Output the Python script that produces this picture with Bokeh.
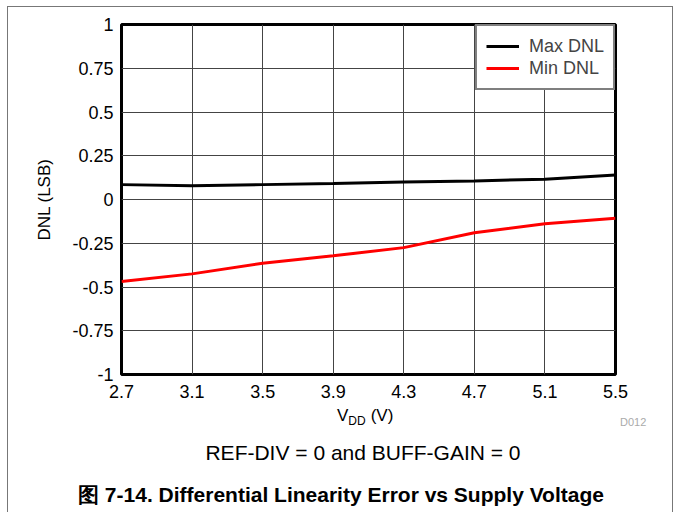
from bokeh.plotting import figure
from bokeh.layouts import column
from bokeh.models import FixedTicker, Range1d, Legend, LegendItem, Div
from bokeh.embed import file_html
from bokeh.resources import INLINE

# ---- data ----
vdd = [2.7, 3.1, 3.5, 3.9, 4.3, 4.7, 5.1, 5.5]
max_dnl = [0.085, 0.078, 0.085, 0.092, 0.100, 0.106, 0.116, 0.140]
min_dnl = [-0.469, -0.425, -0.364, -0.322, -0.275, -0.190, -0.139, -0.107]

x_ticks = [2.7, 3.1, 3.5, 3.9, 4.3, 4.7, 5.1, 5.5]
x_tick_labels = ["2.7", "3.1", "3.5", "3.9", "4.3", "4.7", "5.1", "5.5"]
y_ticks = [-1, -0.75, -0.5, -0.25, 0, 0.25, 0.5, 0.75, 1]
y_tick_labels = ["-1", "-0.75", "-0.5", "-0.25", "0", "0.25", "0.5", "0.75", "1"]

series_names = ["Max DNL", "Min DNL"]
x_title = "V"
x_title_sub = "DD"
x_title_unit = "(V)"
y_title = "DNL (LSB)"
note = "REF-DIV = 0 and BUFF-GAIN = 0"
caption = "图 7-14. Differential Linearity Error vs Supply Voltage"
code = "D012"

FONT = "Liberation Sans"

W = 664
H1 = 398
ML, MT = 113, 17
FRAME_W, FRAME_H = 494, 350
MR = W - ML - FRAME_W
MB = H1 - MT - FRAME_H

p = figure(width=W, height=H1, x_range=Range1d(2.7, 5.5), y_range=Range1d(-1, 1),
           output_backend="svg", toolbar_location=None,
           min_border_left=ML, min_border_right=MR,
           min_border_top=MT, min_border_bottom=MB)

p.outline_line_color = "black"
p.outline_line_width = 3

p.xaxis.ticker = FixedTicker(ticks=x_ticks)
p.yaxis.ticker = FixedTicker(ticks=y_ticks)
p.xaxis.major_label_overrides = {t: l for t, l in zip(x_ticks, x_tick_labels)}
p.yaxis.major_label_overrides = {t: l for t, l in zip(y_ticks, y_tick_labels)}

for ax in (p.xaxis[0], p.yaxis[0]):
    ax.axis_line_color = None
    ax.major_tick_line_color = None
    ax.minor_tick_line_color = None
    ax.major_tick_in = 0
    ax.major_tick_out = 0
    ax.major_label_text_font = FONT
    ax.major_label_text_font_size = "18px"
    ax.major_label_text_color = "black"

p.xaxis.major_label_standoff = 10
p.yaxis.major_label_standoff = 8
p.yaxis.axis_label = y_title
p.yaxis.axis_label_text_font = FONT
p.yaxis.axis_label_text_font_size = "17px"
p.yaxis.axis_label_text_font_style = "normal"
p.yaxis.axis_label_text_color = "black"
p.yaxis.axis_label_standoff = 15

for g in (p.xgrid[0], p.ygrid[0]):
    g.grid_line_color = "#444444"
    g.grid_line_width = 1
p.xgrid.ticker = FixedTicker(ticks=x_ticks)
p.ygrid.ticker = FixedTicker(ticks=y_ticks)

r1 = p.line(vdd, max_dnl, line_color="black", line_width=3)
r2 = p.line(vdd, min_dnl, line_color="#ff0000", line_width=3)

legend = Legend(items=[LegendItem(label=series_names[0], renderers=[r1]),
                       LegendItem(label=series_names[1], renderers=[r2])],
                location="top_right", margin=0, padding=9, spacing=0,
                label_text_font=FONT, label_text_font_size="18px",
                label_height=22, glyph_height=22, glyph_width=33,
                label_standoff=10,
                border_line_color="black", border_line_width=2,
                background_fill_alpha=1.0)
p.add_layout(legend, "center")

# ---- texts below the chart ----
H2 = 107
ff = f"font-family:'{FONT}',Arial,sans-serif;color:black;white-space:nowrap;"
html = (
    f"<div style=\"position:relative;width:{W}px;height:{H2}px;{ff}\">"
    f"<span style=\"position:absolute;left:329px;top:1px;font-size:17px;line-height:20px;\">"
    f"{x_title}<span style=\"font-size:12px;position:relative;top:4px;\">{x_title_sub}</span>"
    f"<span style=\"margin-left:5px;\">{x_title_unit}</span></span>"
    f"<span style=\"position:absolute;left:612px;top:11px;font-size:11px;line-height:13px;color:#aaaaaa;\">{code}</span>"
    f"<span style=\"position:absolute;left:355px;top:36px;font-size:21px;line-height:23px;transform:translateX(-50%);\">{note}</span>"
    f"<span style=\"position:absolute;left:333px;top:78px;font-size:21px;line-height:23px;font-weight:bold;transform:translateX(-50%);\">{caption}</span>"
    f"</div>"
)
d = Div(text=html, width=W, height=H2, margin=(0, 0, 0, 0))

layout = column(p, d, spacing=0, margin=(6, 0, 0, 7),
                styles={"border-top": "1px solid #777777",
                        "border-left": "1px solid #777777",
                        "border-right": "1px solid #777777"})
open("out.html", "w").write(file_html(layout, INLINE))
